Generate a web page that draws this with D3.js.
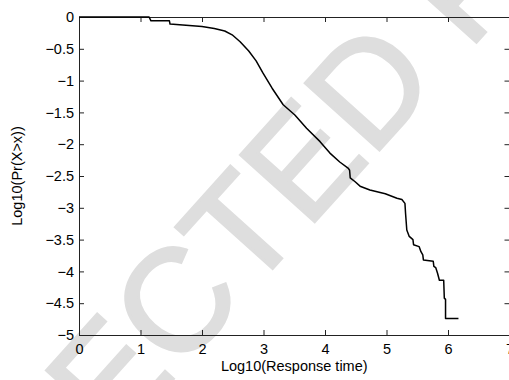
<!DOCTYPE html>
<html>
<head>
<meta charset="utf-8">
<script src="https://cdn.jsdelivr.net/npm/d3@7"></script>
<style>
  body { margin: 0; background: #fff; }
  svg { display: block; font-family: "Liberation Sans", Arial, sans-serif; }
</style>
</head>
<body>
<div id="chart"></div>
<script>
// log10(response time) and log10(Pr(X>x))
const logTime = [0, 1.14, 1.17, 1.47, 1.48, 2.0, 2.2, 2.37, 2.49, 2.62, 2.76, 2.88, 2.99, 3.14, 3.32, 3.51, 3.70, 3.92, 4.08, 4.24, 4.38, 4.40, 4.41, 4.49, 4.57, 4.73, 4.98, 5.17, 5.25, 5.30, 5.31, 5.33, 5.37, 5.43, 5.44, 5.53, 5.56, 5.59, 5.60, 5.76, 5.77, 5.80, 5.83, 5.86, 5.93, 5.94, 5.96, 5.96, 6.17];
const logProb = [0, 0, -0.06, -0.06, -0.11, -0.15, -0.18, -0.22, -0.28, -0.39, -0.535, -0.69, -0.88, -1.12, -1.38, -1.54, -1.75, -1.96, -2.14, -2.28, -2.38, -2.41, -2.53, -2.59, -2.66, -2.72, -2.78, -2.85, -2.87, -2.93, -3.09, -3.35, -3.45, -3.50, -3.58, -3.61, -3.69, -3.74, -3.82, -3.84, -3.92, -3.94, -4.03, -4.14, -4.14, -4.42, -4.44, -4.74, -4.74];

const xTicks = [0, 1, 2, 3, 4, 5, 6, 7];
const yTicks = [0, -0.5, -1, -1.5, -2, -2.5, -3, -3.5, -4, -4.5, -5];
const xTitle = "Log10(Response time)";
const yTitle = "Log10(Pr(X>x))";
const watermark = "UNCORRECTED PROOF";

const data = logTime.map((t, i) => ({ t: t, p: logProb[i] }));

const width = 509, height = 380;
const margin = { top: 17, right: 0, bottom: 45, left: 79 };

const svg = d3.select("#chart").append("svg")
    .attr("width", width)
    .attr("height", height);

const x = d3.scaleLinear().domain([0, 7]).range([margin.left, 509.5]);
const y = d3.scaleLinear().domain([-5, 0]).range([height - margin.bottom, margin.top]);

// watermark behind everything, placed so the "D" lands where it is in the scan
const wmSize = 145, wmAngle = -48;
const wm = svg.append("text")
    .attr("font-size", wmSize)
    .attr("fill", "#dedede")
    .attr("stroke", "#dedede")
    .attr("stroke-width", 3)
    .text(watermark);
const node = wm.node();
const px = node.getSubStringLength(0, 10) + node.getSubStringLength(10, 1) / 2;
const py = -wmSize * 0.716 / 2;
const ang = wmAngle * Math.PI / 180;
const tx = 368 - (px * Math.cos(ang) - py * Math.sin(ang));
const ty = 85 - (px * Math.sin(ang) + py * Math.cos(ang));
wm.attr("transform", `translate(${tx},${ty}) rotate(${wmAngle})`);

const fmt = d3.format("~g");

svg.append("g")
    .attr("transform", `translate(0,${y(-5)})`)
    .call(d3.axisBottom(x).tickValues(xTicks).tickFormat(fmt).tickSize(-5).tickSizeOuter(0).tickPadding(9));
svg.append("g")
    .attr("transform", `translate(0,${y(0)})`)
    .call(d3.axisTop(x).tickValues(xTicks).tickFormat("").tickSize(-5).tickSizeOuter(0));
svg.append("g")
    .attr("transform", `translate(${x(0)},0)`)
    .call(d3.axisLeft(y).tickValues(yTicks).tickFormat(fmt).tickSize(-5).tickSizeOuter(0).tickPadding(5));
svg.append("g")
    .attr("transform", `translate(${x(7)},0)`)
    .call(d3.axisRight(y).tickValues(yTicks).tickFormat("").tickSize(-5).tickSizeOuter(0));

svg.selectAll(".domain, .tick line").attr("stroke", "#222");
svg.selectAll(".tick text")
    .attr("fill", "#000")
    .style("font-size", "14.5px")
    .style("font-family", "inherit");

const line = d3.line()
    .x(d => x(d.t))
    .y(d => y(d.p));

svg.append("path")
    .datum(data)
    .attr("fill", "none")
    .attr("stroke", "#000")
    .attr("stroke-width", 1.5)
    .attr("stroke-linejoin", "round")
    .attr("d", line);

svg.append("text")
    .attr("x", (x(0) + x(7)) / 2)
    .attr("y", 371)
    .attr("text-anchor", "middle")
    .style("font-size", "14.5px")
    .text(xTitle);

svg.append("text")
    .attr("transform", `translate(22,${(y(0) + y(-5)) / 2}) rotate(-90)`)
    .attr("text-anchor", "middle")
    .style("font-size", "14.5px")
    .text(yTitle);
</script>
</body>
</html>
